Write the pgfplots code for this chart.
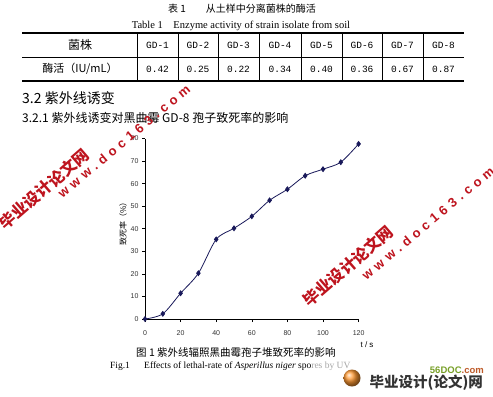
\documentclass[border=0pt]{standalone}
\usepackage{pgfplots}
\pgfplotsset{compat=1.18}
\usepackage{fontspec}
\setmainfont{Liberation Serif}
\newfontfamily\cjk{Noto Sans CJK SC}
\newfontfamily\mono{Liberation Mono}
\newfontfamily\sans{Liberation Sans}
\newfontfamily\wmfont[LetterSpace=35]{Liberation Sans}
\definecolor{wm}{RGB}{190,20,30}
\definecolor{navy}{RGB}{25,25,90}
\definecolor{logogreen}{RGB}{120,160,40}
\definecolor{logoorange}{RGB}{190,90,40}
\newcommand{\fs}[1]{\fontsize{#1bp}{#1bp}\selectfont}
\pgfplotstableread{
t rate
0 0
10 2.3
20 11.4
30 20.3
40 35.3
50 40.2
60 45.5
70 52.6
80 57.5
90 63.5
100 66.4
110 69.5
120 77.6
}\lethal
\begin{document}
\begin{tikzpicture}[x=1bp,y=1bp]
\useasboundingbox (0,0) rectangle (493,396);
\fill[white] (0,0) rectangle (493,396);
% table captions
\node at (242,387) {\cjk\fs{10}表 1\quad\quad 从土样中分离菌株的酶活};
\node at (241,370) {\fs{10.5}Table 1\quad Enzyme activity of strain isolate from soil};
% table rules
\draw[line width=1.4bp] (22,363) -- (464,363);
\draw[line width=0.6bp] (22,339) -- (464,339);
\draw[line width=1.4bp] (22,315) -- (464,315);
\foreach \xx in {137,178,218,259,301,342,382,423} {\draw[line width=0.5bp] (\xx,363) -- (\xx,315);}
\node at (80,351) {\cjk\fs{12}菌株};
\node at (80,327) {\cjk\fs{11}酶活（IU/mL）};
\foreach \xx/\g/\v in {157.5/1/0.42,198/2/0.25,238.5/3/0.22,280/4/0.34,321.5/5/0.40,362/6/0.36,402.5/7/0.67,443.5/8/0.87} {
  \node at (\xx,351) {\mono\fs{9.5}GD-\g};
  \node at (\xx,327) {\mono\fs{9.5}\v};
}
% headings
\node[anchor=west,inner sep=0] at (22,298) {\cjk\fs{14}3.2 紫外线诱变};
\node[anchor=west,inner sep=0] at (22,278) {\cjk\fs{12}3.2.1 紫外线诱变对黑曲霉 GD-8 孢子致死率的影响};
% chart
\begin{axis}[
  at={(145bp,77bp)}, anchor=south west,
  scale only axis, width=213.6bp, height=180.5bp,
  xmin=0, xmax=120, ymin=0, ymax=80,
  axis lines*=left,
  axis line style={line width=0.8bp, black},
  xtick={0,20,...,120}, ytick={0,10,...,80},
  tick align=outside, major tick length=3bp,
  tick style={black, line width=0.6bp},
  /pgf/number format/assume math mode=true,
  ticklabel style={font=\sans\fs{7}, text=black!80},
  xticklabel style={yshift=-5bp},
  clip=false,
]
\addplot[navy, line width=0.8bp, smooth, tension=0.5, mark=diamond*, mark size=2.4bp, mark options={solid, fill=navy}] table[x=t, y=rate] {\lethal};
\end{axis}
\node[rotate=90] at (123,174) {\cjk\fs{8}致死率（\%）};
\node at (367,51) {\sans\fs{8}t / s};
% figure captions
\node[anchor=west,inner sep=0] at (136,44) {\cjk\fs{10.5}图 1 紫外线辐照黑曲霉孢子堆致死率的影响};
\node[anchor=west,inner sep=0] at (110,30) {\fs{9.5}Fig.1\quad\ \ Effects of lethal-rate of \textit{Asperillus niger} spo\textcolor{black!35}{res by UV}};
% watermarks
\node[rotate=41, text=wm] at (44,207) {\cjk\bfseries\fs{16}毕业设计论文网};
\node[rotate=40, text=wm] at (124,255) {\wmfont\bfseries\fs{13}www.doc163.com};
\node[rotate=41, text=wm] at (348,130) {\cjk\bfseries\fs{16}毕业设计论文网};
\node[rotate=40, text=wm] at (428,173) {\wmfont\bfseries\fs{13}www.doc163.com};
% logo
\shade[ball color=orange!80] (352,18) circle (8.5);
\node[anchor=east,inner sep=0] at (484,26) {\sans\bfseries\fs{9.5}\textcolor{logogreen}{56DOC}\textcolor{logoorange}{.com}};
\node[anchor=east,inner sep=0] at (483,13) {\cjk\bfseries\fs{14.5}\textcolor{black!80}{毕业设计(论文)网}};
\end{tikzpicture}
\end{document}
